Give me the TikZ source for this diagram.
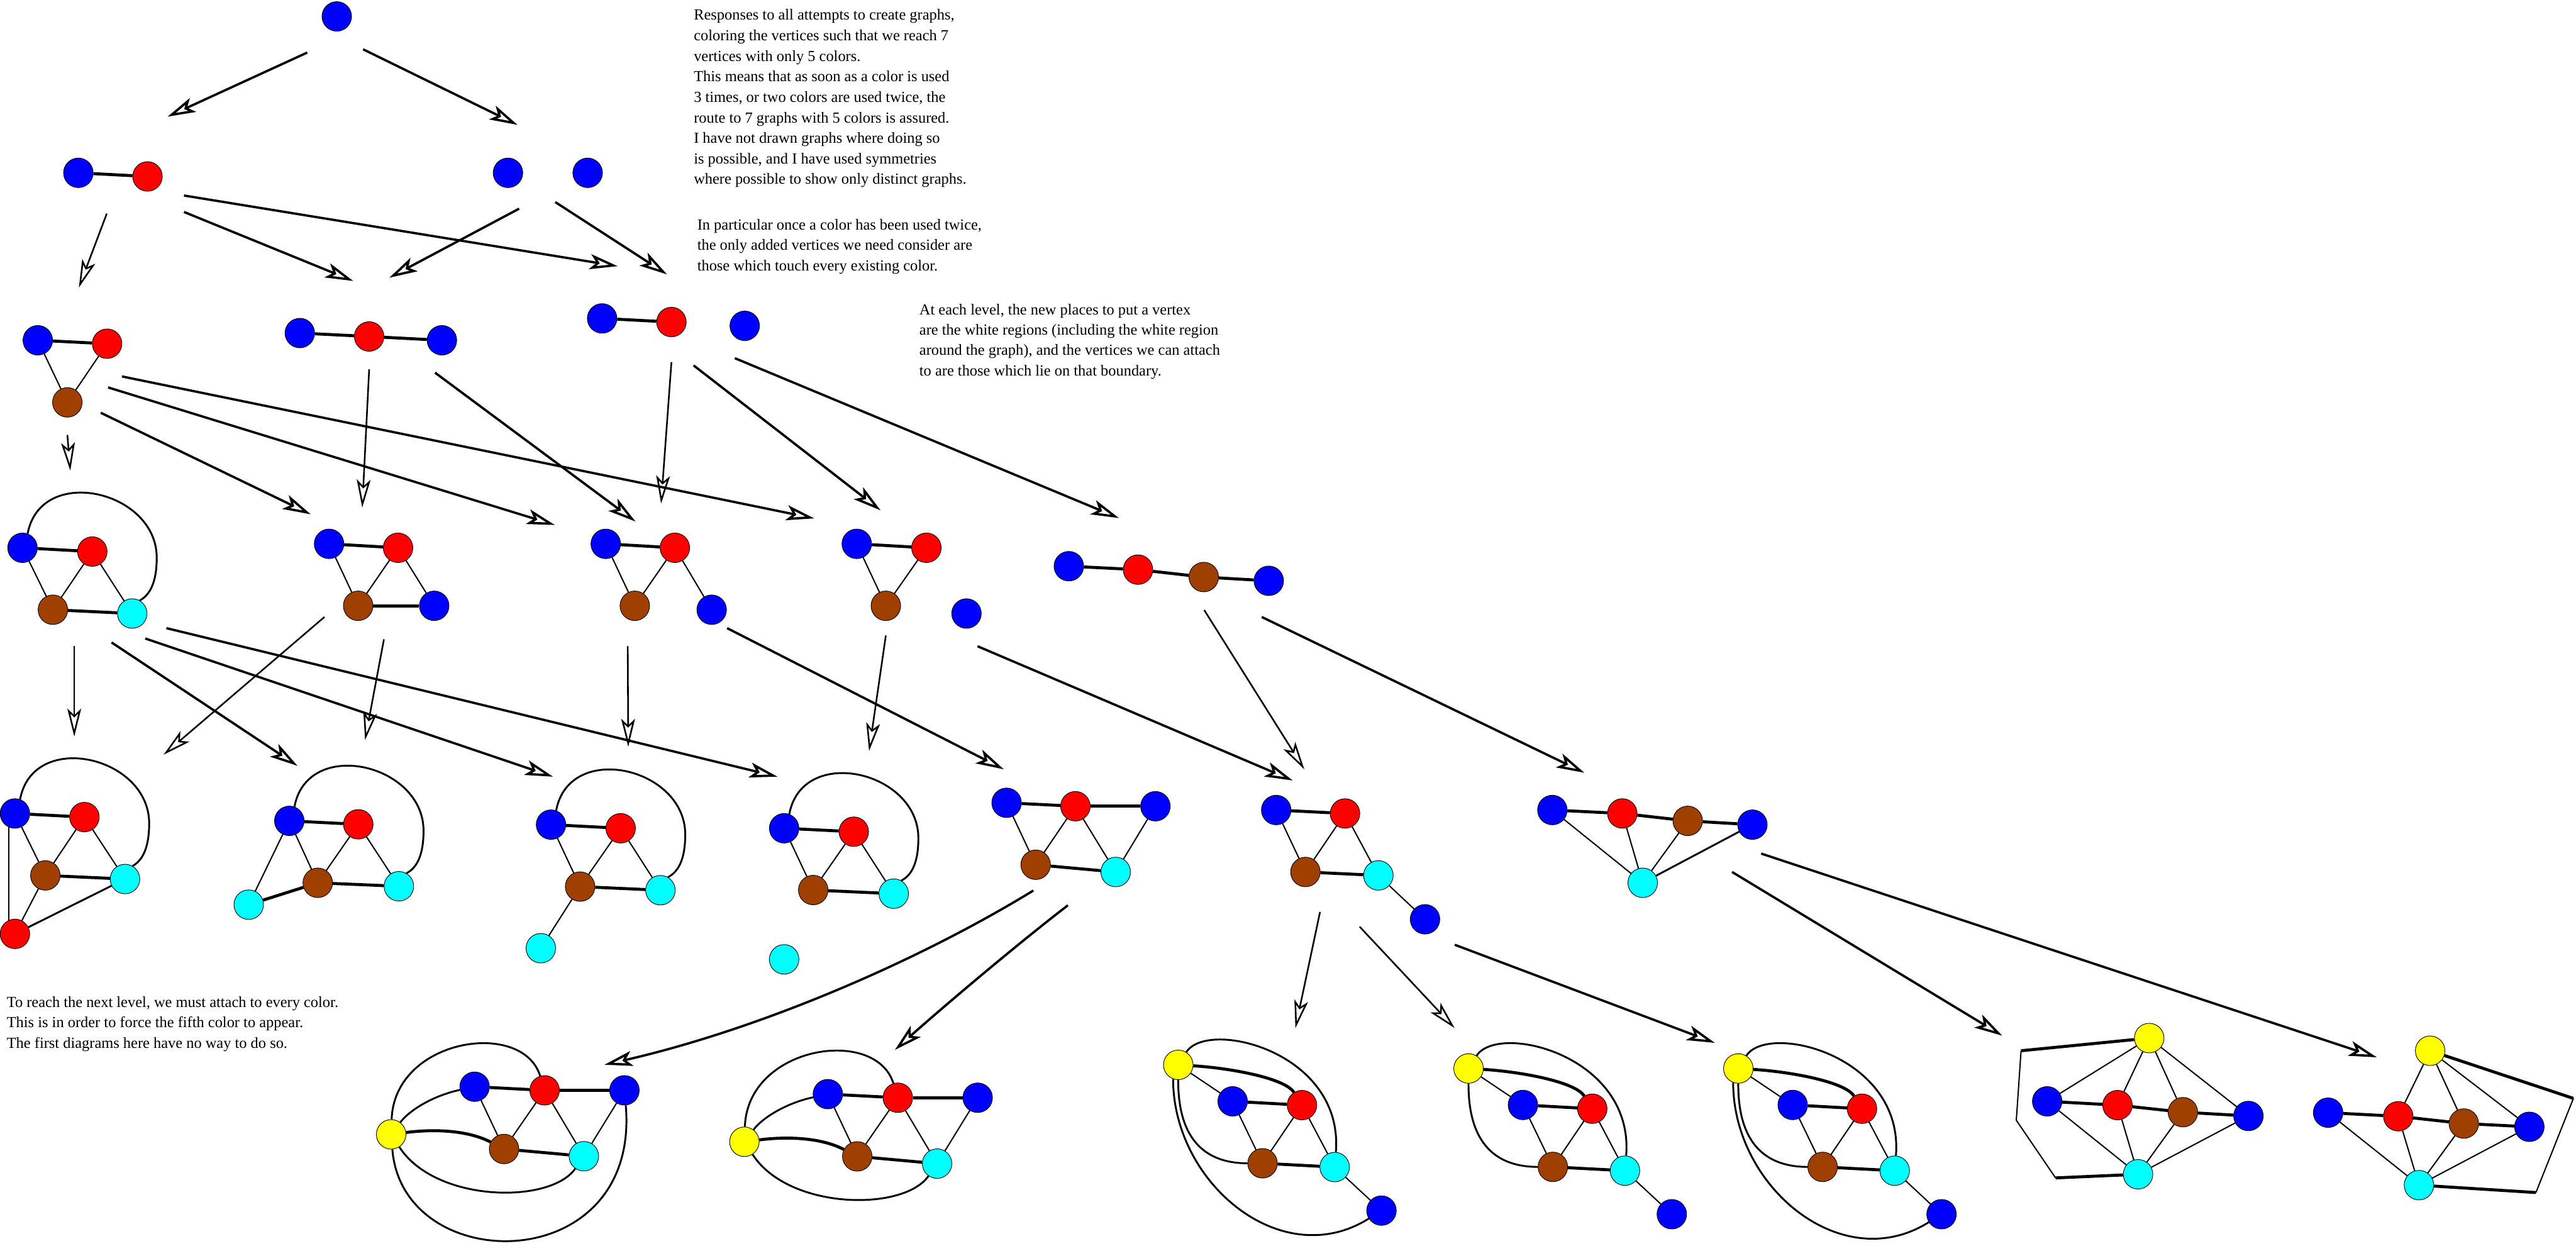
\documentclass[tikz,border=0pt]{standalone}
\usepackage{fontspec}
\setmainfont{Liberation Serif}
\usetikzlibrary{arrows.meta}
\definecolor{vblue}{RGB}{0,0,255}
\definecolor{vred}{RGB}{255,0,0}
\definecolor{vbrown}{RGB}{160,64,0}
\definecolor{vcyan}{RGB}{0,255,255}
\definecolor{vyellow}{RGB}{255,255,0}
\newcommand\toparc[2]{\draw[me] (#1.70) .. controls ([shift={(11,-51)}]#1.center) and ([shift={(81.7,-35)}]#1.center) .. ([shift={(81.7,6)}]#1.center) .. controls ([shift={(81.7,22)}]#1.center) and ([shift={(77,29)}]#1.center) .. (#2.60);}
\newcommand\coreAB[3]{%
\begin{scope}[shift={(#2,#3)}]
\node[vY] (#1y) at (238.1,690.4) {};
\node[vB] (#1b) at (288.9,661.4) {};
\node[vR] (#1r) at (331.5,663.6) {};
\node[vB] (#1bb) at (380.1,663.6) {};
\node[vN] (#1n) at (306.8,699.3) {};
\node[vC] (#1c) at (355.4,703.7) {};
\draw[ke] (#1b) -- (#1r);
\draw[ke] (#1r) -- (#1bb);
\draw[te] (#1b) -- (#1n);
\draw[te] (#1r) -- (#1n);
\draw[te] (#1r) -- (#1c);
\draw[te] (#1bb) -- (#1c);
\draw[ke] (#1n) -- (#1c);
\draw[me] (#1y) .. controls (249,676) and (263,667) .. (#1b);
\draw[ke] (#1y) .. controls (265,687) and (285,688) .. (#1n);
\draw[me] (#1y) .. controls (265,732) and (335,733) .. (#1c);
\draw[me] (#1y) .. controls (240,632) and (318,620) .. (#1r);
\end{scope}}
\newcommand\coreC[3]{%
\begin{scope}[shift={(#2,#3)}]
\node[vY] (#1y) at (717.2,648.1) {};
\node[vB] (#1b) at (750.3,670.3) {};
\node[vR] (#1r) at (792.5,672.6) {};
\node[vN] (#1n) at (768.5,708) {};
\node[vC] (#1c) at (812.4,710.3) {};
\node[vB] (#1bb) at (840.9,736.8) {};
\draw[ke] (#1b) -- (#1r);
\draw[te] (#1b) -- (#1n);
\draw[te] (#1r) -- (#1n);
\draw[te] (#1r) -- (#1c);
\draw[ke] (#1n) -- (#1c);
\draw[te] (#1c) -- (#1bb);
\draw[te] (#1y) -- (#1b);
\draw[ke] (#1y) .. controls (748,650) and (782,656) .. (#1r);
\draw[me] (#1y) .. controls (717,695) and (735,708) .. (#1n);
\draw[me] (#1y) .. controls (735,620) and (818,640) .. (#1c);
\end{scope}}
\begin{document}
\begin{tikzpicture}[x=0.05cm,y=-0.05cm,
 vtx/.style={circle,draw=black,line width=0.5pt,minimum size=0.9cm,inner sep=0pt},
 vB/.style={vtx,fill=vblue},
 vR/.style={vtx,fill=vred},
 vN/.style={vtx,fill=vbrown},
 vC/.style={vtx,fill=vcyan},
 vY/.style={vtx,fill=vyellow},
 te/.style={line width=1.1pt},
 me/.style={line width=1.6pt},
 ke/.style={line width=2.6pt},
 arr/.style={line width=2pt,-{Stealth[open,length=0.85cm,width=0.46cm,inset=0.2cm]}},
 arrs/.style={line width=1.4pt,-{Stealth[open,length=0.85cm,width=0.42cm,inset=0.2cm]}},
 txt/.style={anchor=north west,inner sep=0pt,align=left,font=\fontsize{13.3}{17.77}\selectfont}]
\useasboundingbox (0,0) rectangle (1568,758);
\fill[white] (0,0) rectangle (1568,758);

% texts
\node[txt] (t1) at (422.2,5.6) {Responses to all attempts to create graphs,\\coloring the vertices such that we reach 7\\vertices with only 5 colors.\\This means that as soon as a color is used\\3 times, or two colors are used twice, the\\route to 7 graphs with 5 colors is assured.\\I have not drawn graphs where doing so\\is possible, and I have used symmetries\\where possible to show only distinct graphs.};
\node[txt] (t2) at (424.3,133.2) {In particular once a color has been used twice,\\the only added vertices we need consider are\\those which touch every existing color.};
\node[txt,font=\fontsize{13.3}{17.6}\selectfont] (t3) at (559.5,184.9) {At each level, the new places to put a vertex\\are the white regions (including the white region\\around the graph), and the vertices we can attach\\to are those which lie on that boundary.};
\node[txt] (t4) at (4,606.3) {To reach the next level, we must attach to every color.\\This is in order to force the fifth color to appear.\\The first diagrams here have no way to do so.};

% level 0 and 1
\node[vB] (n0) at (205,10) {};
\node[vB] (l1b) at (47.7,105.2) {};
\node[vR] (l1r) at (89.8,107.4) {};
\node[vB] (l1x) at (309.2,105.2) {};
\node[vB] (l1y) at (357.7,105.2) {};
\draw[ke] (l1b) -- (l1r);

% level 2
\node[vB] (a2b) at (23,207.1) {};
\node[vR] (a2r) at (65.2,209.2) {};
\node[vN] (a2n) at (41,244.9) {};
\draw[ke] (a2b) -- (a2r);
\draw[te] (a2b) -- (a2n);
\draw[te] (a2r) -- (a2n);
\node[vB] (b2b) at (182.5,202.7) {};
\node[vR] (b2r) at (224.7,204.8) {};
\node[vB] (b2bb) at (269,207.1) {};
\draw[ke] (b2b) -- (b2r);
\draw[ke] (b2r) -- (b2bb);
\node[vB] (c2b) at (366.5,193.8) {};
\node[vR] (c2r) at (408.7,196) {};
\node[vB] (c2x) at (453.3,198.3) {};
\draw[ke] (c2b) -- (c2r);

% level 3
\node[vB] (a3b) at (13.7,333.4) {};
\node[vR] (a3r) at (56.2,335.7) {};
\node[vN] (a3n) at (32.2,371.1) {};
\node[vC] (a3c) at (80.5,373.4) {};
\draw[ke] (a3b) -- (a3r);
\draw[te] (a3b) -- (a3n);
\draw[te] (a3r) -- (a3n);
\draw[te] (a3r) -- (a3c);
\draw[ke] (a3n) -- (a3c);
\toparc{a3b}{a3c}
\node[vB] (b3b) at (200.3,331) {};
\node[vR] (b3r) at (242.3,333.4) {};
\node[vN] (b3n) at (218,368.7) {};
\node[vB] (b3bb) at (264.3,368.7) {};
\draw[ke] (b3b) -- (b3r);
\draw[te] (b3b) -- (b3n);
\draw[te] (b3r) -- (b3n);
\draw[te] (b3r) -- (b3bb);
\draw[ke] (b3n) -- (b3bb);
\node[vB] (c3b) at (368.7,331) {};
\node[vR] (c3r) at (410.8,333.4) {};
\node[vN] (c3n) at (386.4,368.7) {};
\node[vB] (c3bb) at (433.2,371.1) {};
\draw[ke] (c3b) -- (c3r);
\draw[te] (c3b) -- (c3n);
\draw[te] (c3r) -- (c3n);
\draw[te] (c3r) -- (c3bb);
\node[vB] (d3b) at (521.5,331) {};
\node[vR] (d3r) at (563.9,333.4) {};
\node[vN] (d3n) at (539.2,368.7) {};
\node[vB] (d3x) at (588.3,373.4) {};
\draw[ke] (d3b) -- (d3r);
\draw[te] (d3b) -- (d3n);
\draw[te] (d3r) -- (d3n);
\node[vB] (e3b) at (650.6,344.6) {};
\node[vR] (e3r) at (692.7,346.7) {};
\node[vN] (e3n) at (732.7,351.2) {};
\node[vB] (e3bb) at (772.3,353.5) {};
\draw[ke] (e3b) -- (e3r);
\draw[ke] (e3r) -- (e3n);
\draw[ke] (e3n) -- (e3bb);

% level 4
\node[vB] (a4b) at (9.1,495.1) {};
\node[vR] (a4r) at (51.4,497.3) {};
\node[vN] (a4n) at (27.6,532.8) {};
\node[vC] (a4c) at (76.1,535) {};
\node[vR] (a4rr) at (9.1,568.4) {};
\draw[ke] (a4b) -- (a4r);
\draw[te] (a4b) -- (a4n);
\draw[te] (a4r) -- (a4n);
\draw[te] (a4r) -- (a4c);
\draw[ke] (a4n) -- (a4c);
\draw[te] (a4b.245) -- (a4rr.115);
\draw[te] (a4n) -- (a4rr);
\draw[me] (a4c) -- (a4rr);
\toparc{a4b}{a4c}
\node[vB] (b4b) at (176.1,499.6) {};
\node[vR] (b4r) at (218.1,501.7) {};
\node[vN] (b4n) at (193.4,537.3) {};
\node[vC] (b4c) at (242.8,539.4) {};
\node[vC] (b4cc) at (151.4,550.6) {};
\draw[ke] (b4b) -- (b4r);
\draw[te] (b4b) -- (b4n);
\draw[te] (b4r) -- (b4n);
\draw[te] (b4r) -- (b4c);
\draw[ke] (b4n) -- (b4c);
\draw[te] (b4b) -- (b4cc);
\draw[ke] (b4n) -- (b4cc);
\toparc{b4b}{b4c}
\node[vB] (c4b) at (335.4,501.9) {};
\node[vR] (c4r) at (377.8,504.1) {};
\node[vN] (c4n) at (353.1,539.6) {};
\node[vC] (c4c) at (402,541.8) {};
\node[vC] (c4cc) at (329.2,577.1) {};
\draw[ke] (c4b) -- (c4r);
\draw[te] (c4b) -- (c4n);
\draw[te] (c4r) -- (c4n);
\draw[te] (c4r) -- (c4c);
\draw[ke] (c4n) -- (c4c);
\draw[te] (c4n) -- (c4cc);
\toparc{c4b}{c4c}
\node[vB] (d4b) at (477.3,504.1) {};
\node[vR] (d4r) at (519.7,506.2) {};
\node[vN] (d4n) at (495,541.7) {};
\node[vC] (d4c) at (544,543.9) {};
\node[vC] (d4cc) at (477.3,583.9) {};
\draw[ke] (d4b) -- (d4r);
\draw[te] (d4b) -- (d4n);
\draw[te] (d4r) -- (d4n);
\draw[te] (d4r) -- (d4c);
\draw[ke] (d4n) -- (d4c);
\toparc{d4b}{d4c}
\node[vB] (e4b) at (612.7,488.6) {};
\node[vR] (e4r) at (654.6,490.7) {};
\node[vB] (e4bb) at (703.3,490.7) {};
\node[vN] (e4n) at (630.4,526.3) {};
\node[vC] (e4c) at (679.1,530.7) {};
\draw[ke] (e4b) -- (e4r);
\draw[ke] (e4r) -- (e4bb);
\draw[te] (e4b) -- (e4n);
\draw[te] (e4r) -- (e4n);
\draw[te] (e4r) -- (e4c);
\draw[te] (e4bb) -- (e4c);
\draw[ke] (e4n) -- (e4c);
\node[vB] (f4b) at (776.8,493) {};
\node[vR] (f4r) at (818.7,495.1) {};
\node[vN] (f4n) at (794.6,530.7) {};
\node[vC] (f4c) at (839,532.8) {};
\node[vB] (f4bb) at (867.4,559.5) {};
\draw[ke] (f4b) -- (f4r);
\draw[te] (f4b) -- (f4n);
\draw[te] (f4r) -- (f4n);
\draw[te] (f4r) -- (f4c);
\draw[ke] (f4n) -- (f4c);
\draw[te] (f4c) -- (f4bb);
\node[vB] (g4b) at (944.9,493) {};
\node[vR] (g4r) at (987.5,495.1) {};
\node[vN] (g4n) at (1027.3,499.6) {};
\node[vB] (g4bb) at (1066.7,501.9) {};
\node[vC] (g4c) at (999.9,537.3) {};
\draw[ke] (g4b) -- (g4r);
\draw[ke] (g4r) -- (g4n);
\draw[ke] (g4n) -- (g4bb);
\draw[te] (g4b) -- (g4c);
\draw[te] (g4r) -- (g4c);
\draw[te] (g4n) -- (g4c);
\draw[me] (g4bb) -- (g4c);

% level 5
\coreAB{a5}{0}{0}
\draw[me] (a5y) .. controls (245,778) and (390,778) .. (a5bb);
\coreAB{b5}{215}{4.5}
\coreC{c5}{0}{0}
\draw[me] (c5y.250) .. controls (714,720) and (780,775) .. (c5bb);
\coreC{d5}{176.7}{2.2}
\coreC{e5}{340.9}{2.2}
\draw[me] (e5y.250) .. controls (1054.9,722.2) and (1120.9,777.2) .. (e5bb);

\node[vY] (f5y) at (1308.2,631.8) {};
\node[vB] (f5b) at (1246.1,670.3) {};
\node[vR] (f5r) at (1288.9,672.6) {};
\node[vN] (f5n) at (1328.7,676.9) {};
\node[vB] (f5bb) at (1368.6,679.2) {};
\node[vC] (f5c) at (1301.4,714.7) {};
\draw[ke] (f5b) -- (f5r);
\draw[ke] (f5r) -- (f5n);
\draw[ke] (f5n) -- (f5bb);
\draw[te] (f5b) -- (f5c);
\draw[te] (f5r) -- (f5c);
\draw[te] (f5n) -- (f5c);
\draw[te] (f5bb) -- (f5c);
\draw[te] (f5y) -- (f5b);
\draw[te] (f5y) -- (f5r);
\draw[te] (f5y) -- (f5n);
\draw[te] (f5y) -- (f5bb);
\coordinate (f5p1) at (1230.2,639.5);
\coordinate (f5p2) at (1227.3,681.8);
\coordinate (f5p3) at (1251.2,716.9);
\draw[ke] (f5y) -- (f5p1);
\draw[te] (f5p1) -- (f5p2) -- (f5p3);
\draw[ke] (f5p3) -- (f5c);

\node[vY] (g5y) at (1479.2,639.5) {};
\node[vB] (g5b) at (1417.1,677.2) {};
\node[vR] (g5r) at (1459.8,679.4) {};
\node[vN] (g5n) at (1499.7,683.8) {};
\node[vB] (g5bb) at (1539.6,685.8) {};
\node[vC] (g5c) at (1472.4,721.3) {};
\draw[ke] (g5b) -- (g5r);
\draw[ke] (g5r) -- (g5n);
\draw[ke] (g5n) -- (g5bb);
\draw[te] (g5b) -- (g5c);
\draw[te] (g5r) -- (g5c);
\draw[te] (g5n) -- (g5c);
\draw[te] (g5bb) -- (g5c);
\draw[te] (g5y) -- (g5r);
\draw[te] (g5y) -- (g5n);
\draw[te] (g5y) -- (g5bb);
\coordinate (g5p1) at (1566.4,668.5);
\coordinate (g5p2) at (1543.6,725.8);
\draw[ke] (g5y) -- (g5p1);
\draw[te] (g5p1) -- (g5p2);
\draw[ke] (g5p2) -- (g5c);

% arrows
\coordinate (s1) at (187,32);   \coordinate (e1) at (102,71);
\coordinate (s2) at (221,30);   \coordinate (e2) at (315,76);
\coordinate (s3) at (65,130);   \coordinate (e3) at (48,175);
\coordinate (s4) at (112,129);  \coordinate (e4) at (215,171);
\coordinate (s5) at (112,119);  \coordinate (e5) at (376,162);
\coordinate (s6) at (316,127);  \coordinate (e6) at (237,169);
\coordinate (s7) at (338,123);  \coordinate (e7) at (406,167);
\coordinate (s8) at (41,264.7); \coordinate (e8) at (42.8,286.4);
\coordinate (s9) at (61.3,251.2); \coordinate (e9) at (189.1,313);
\coordinate (s10) at (65.8,235.8); \coordinate (e10) at (337.7,319.5);
\coordinate (s11) at (74.2,229.1); \coordinate (e11) at (495.6,315.5);
\coordinate (s12) at (224.7,224.8); \coordinate (e12) at (220.5,308.9);
\coordinate (s13) at (264.8,226.8); \coordinate (e13) at (386.8,317.4);
\coordinate (s14) at (408.7,220.4); \coordinate (e14) at (402.4,306.5);
\coordinate (s15) at (422.2,222.4); \coordinate (e15) at (536,310.6);
\coordinate (s16) at (447.3,218); \coordinate (e16) at (681.1,315.3);
\coordinate (s17) at (45.2,393.3); \coordinate (e17) at (45.2,448.3);
\coordinate (s18) at (197.5,375.5); \coordinate (e18) at (99.6,459.3);
\coordinate (s19) at (67.9,391); \coordinate (e19) at (181.1,466.1);
\coordinate (s20) at (88.4,388.6); \coordinate (e20) at (336.6,472.7);
\coordinate (s21) at (101.3,382.3); \coordinate (e21) at (473.2,472.7);
\coordinate (s22) at (233.7,389.1); \coordinate (e22) at (222.2,450.4);
\coordinate (s23) at (382.1,393.3); \coordinate (e23) at (382.4,454.5);
\coordinate (s24) at (442.6,382.3); \coordinate (e24) at (611,468.2);
\coordinate (s25) at (539.2,386.8); \coordinate (e25) at (529,457);
\coordinate (s26) at (595,393.3); \coordinate (e26) at (786.8,475);
\coordinate (s27) at (733,371.3); \coordinate (e27) at (793.9,468.2);
\coordinate (s28) at (768,375.5); \coordinate (e28) at (964.4,470.3);
\coordinate (s29) at (629,542); \coordinate (e29) at (368,648);
\coordinate (s30) at (650,551); \coordinate (e30) at (544.7,639);
\coordinate (s31) at (803.5,555); \coordinate (e31) at (788.5,625.7);
\coordinate (s32) at (827.6,564); \coordinate (e32) at (885.4,625.7);
\coordinate (s33) at (885.5,575); \coordinate (e33) at (1043.8,634.7);
\coordinate (s34) at (1054.3,530.7); \coordinate (e34) at (1218.7,630.3);
\coordinate (s35) at (1072,519.5); \coordinate (e35) at (1446.7,643.5);

\draw[arr] (s1) -- (e1);
\draw[arr] (s2) -- (e2);
\draw[arrs] (s3) -- (e3);
\draw[arr] (s4) -- (e4);
\draw[arr] (s5) -- (e5);
\draw[arr] (s6) -- (e6);
\draw[arr] (s7) -- (e7);
\draw[arrs] (s8) -- (e8);
\draw[arr] (s9) -- (e9);
\draw[arr] (s10) -- (e10);
\draw[arr] (s11) -- (e11);
\draw[arrs] (s12) -- (e12);
\draw[arr] (s13) -- (e13);
\draw[arrs] (s14) -- (e14);
\draw[arr] (s15) -- (e15);
\draw[arr] (s16) -- (e16);
\draw[arrs] (s17) -- (e17);
\draw[arrs] (s18) -- (e18);
\draw[arr] (s19) -- (e19);
\draw[arr] (s20) -- (e20);
\draw[arr] (s21) -- (e21);
\draw[arrs] (s22) -- (e22);
\draw[arrs] (s23) -- (e23);
\draw[arr] (s24) -- (e24);
\draw[arrs] (s25) -- (e25);
\draw[arr] (s26) -- (e26);
\draw[arrs] (s27) -- (e27);
\draw[arr] (s28) -- (e28);
\draw[arr] (s29) .. controls (552,589) and (456,628) .. (e29);
\draw[arr] (s30) .. controls (620,574) and (575,612) .. (e30);
\draw[arrs] (s31) -- (e31);
\draw[arrs] (s32) -- (e32);
\draw[arr] (s33) -- (e33);
\draw[arr] (s34) -- (e34);
\draw[arr] (s35) -- (e35);
\end{tikzpicture}
\end{document}
